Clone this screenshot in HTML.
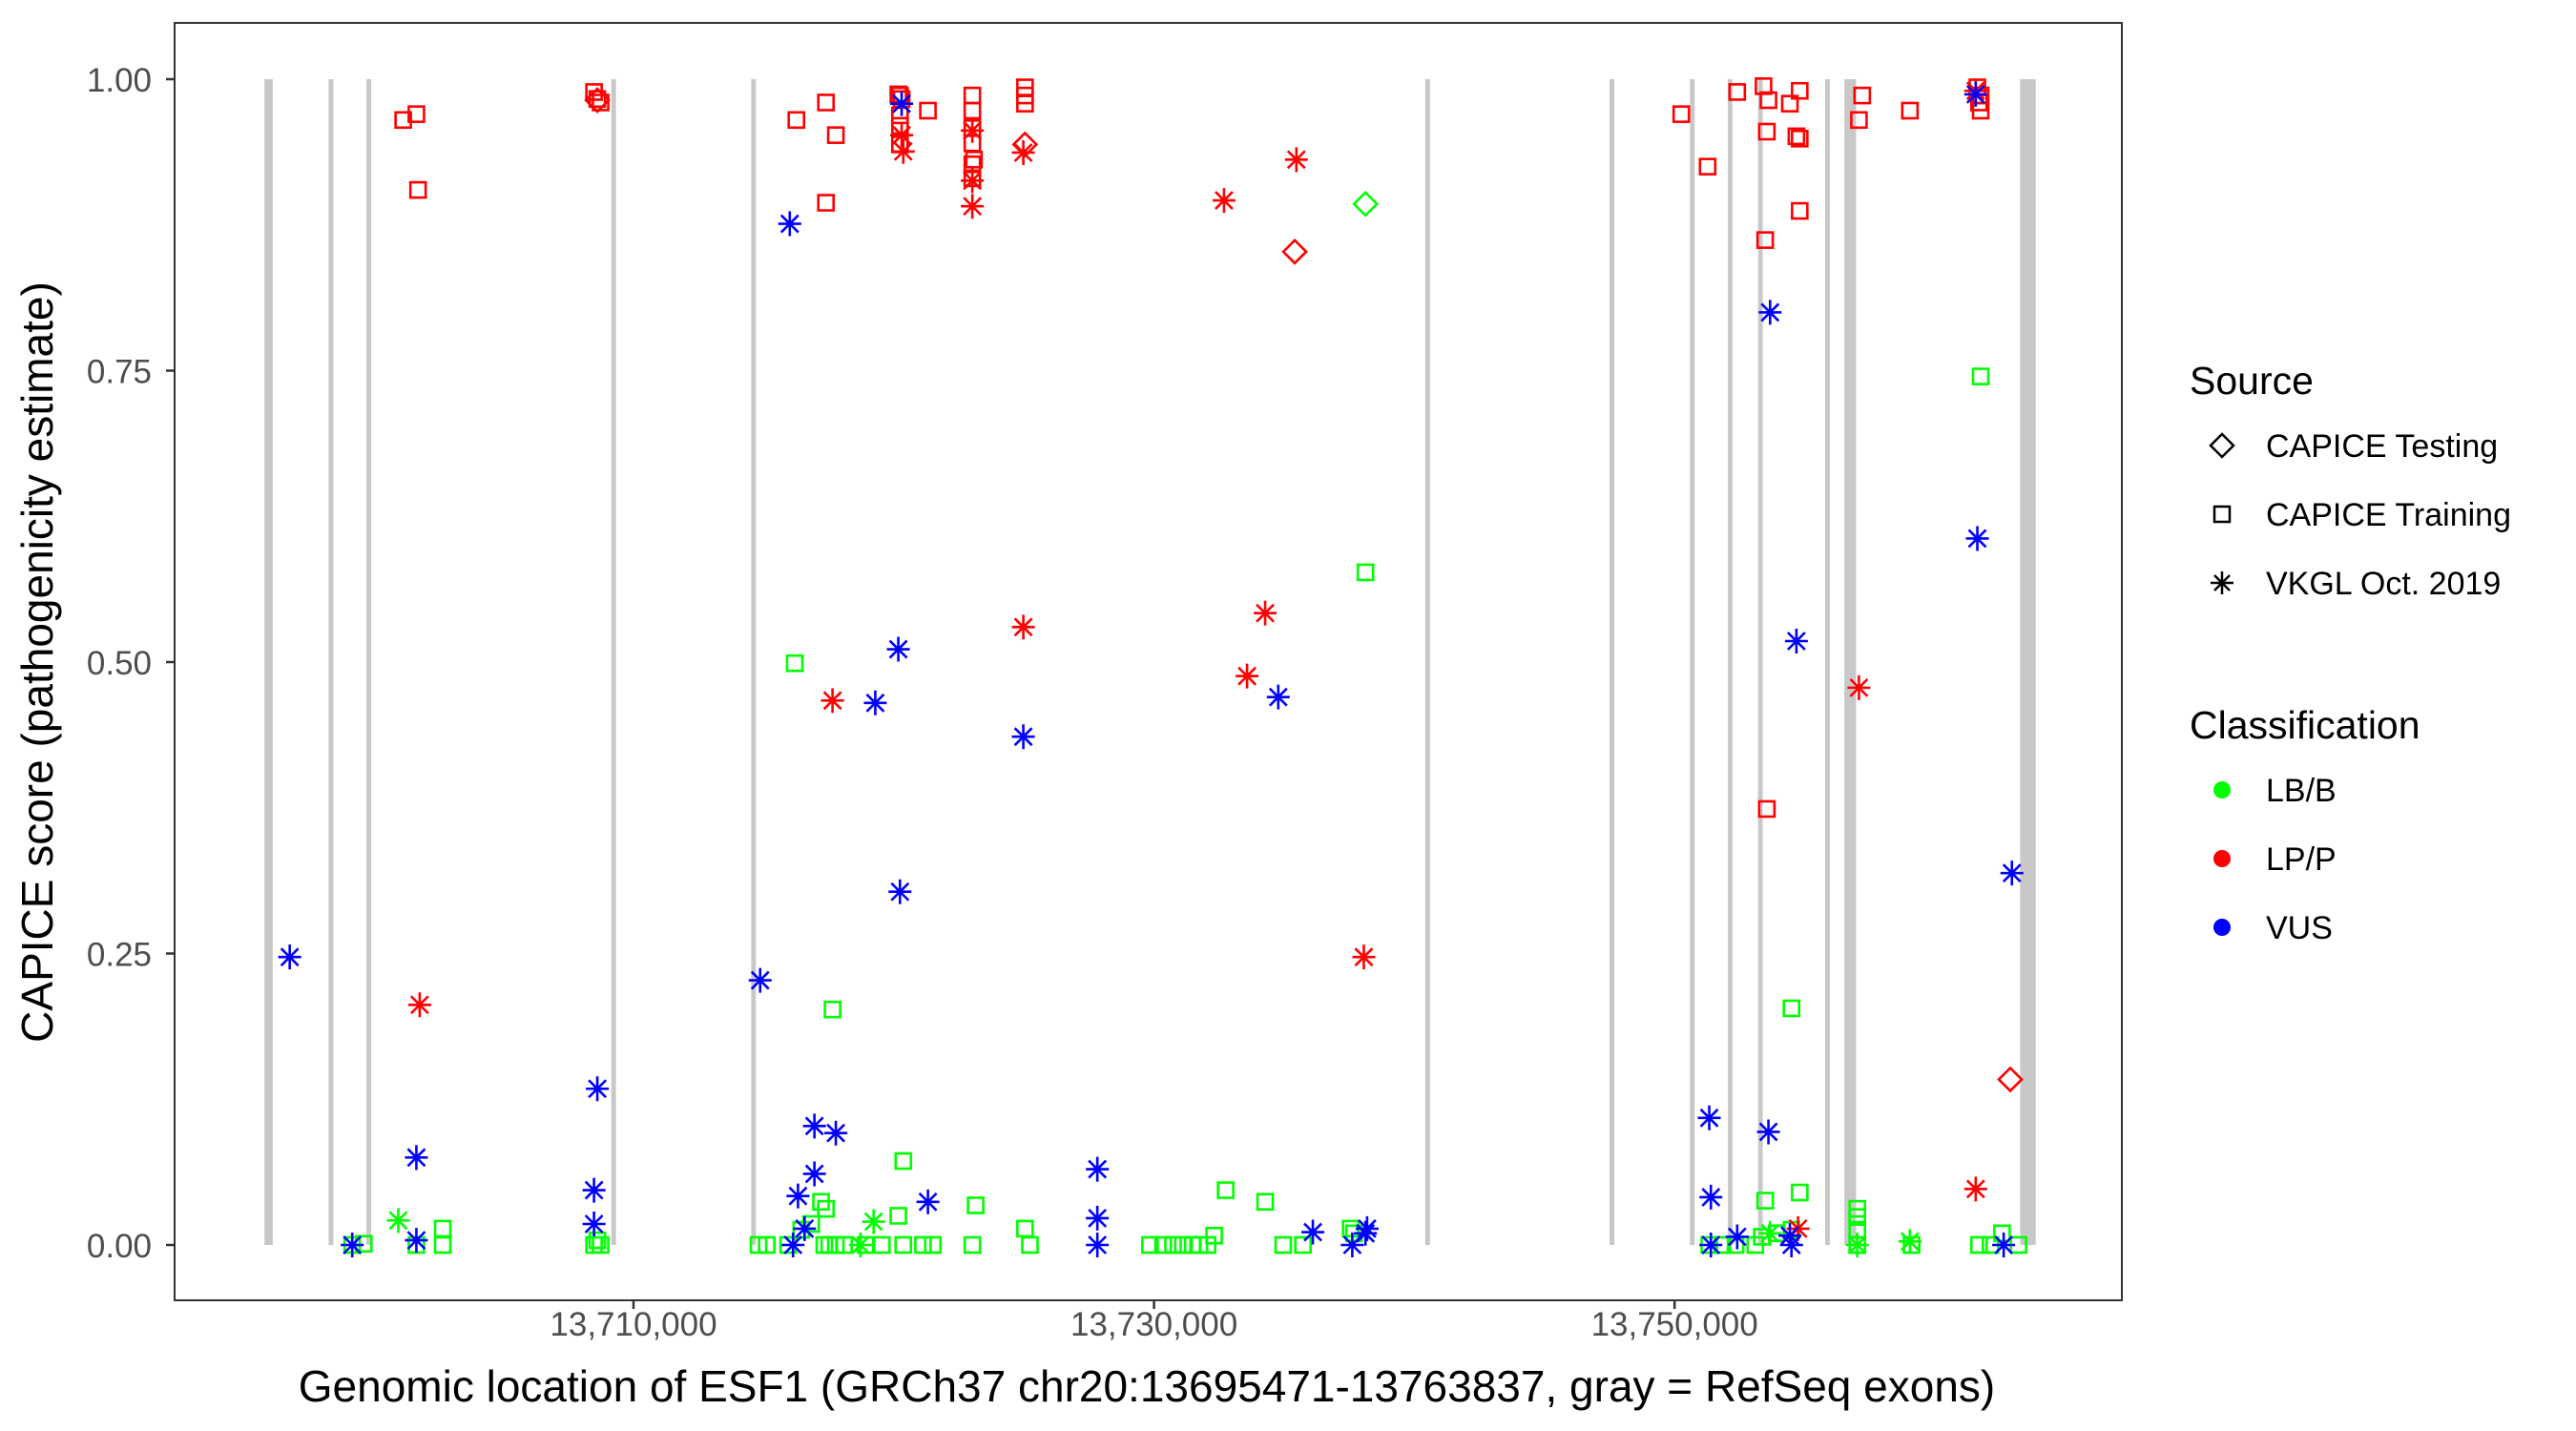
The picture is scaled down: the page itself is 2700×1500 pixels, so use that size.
<!DOCTYPE html>
<html><head><meta charset="utf-8"><style>
html,body{margin:0;padding:0;background:#fff;}
svg{display:block;font-family:"Liberation Sans",Arial,sans-serif;}
</style></head><body>
<svg id="chart" width="2700" height="1500" viewBox="0 0 2700 1500" xmlns="http://www.w3.org/2000/svg">
<rect x="0" y="0" width="2700" height="1500" fill="#fff"/>
<g id="exons"></g>
<g id="points"></g>
<rect x="183" y="24" width="2041" height="1339" fill="none" stroke="#333" stroke-width="2"/>
<g id="yaxis"></g>
<g id="xaxis"></g>
<text transform="translate(55,694) rotate(-90)" text-anchor="middle" font-size="46" fill="#000">CAPICE score (pathogenicity estimate)</text>
<text x="1202" y="1469" text-anchor="middle" font-size="46" fill="#000">Genomic location of ESF1 (GRCh37 chr20:13695471-13763837, gray = RefSeq exons)</text>
<g>
<text x="2295" y="413" font-size="41">Source</text>
<path d="M2329,455 L2341,467 L2329,479 L2317,467 Z" fill="none" stroke="#000" stroke-width="2.5"/>
<text x="2375" y="479" font-size="34">CAPICE Testing</text>
<rect x="2321" y="531" width="16" height="16" fill="none" stroke="#000" stroke-width="2.5"/>
<text x="2375" y="551" font-size="34">CAPICE Training</text>
<path d="M2317,611 H2341 M2329,599 V623 M2321,603 L2337,619 M2337,603 L2321,619" stroke="#000" stroke-width="2.5"/>
<text x="2375" y="623" font-size="34">VKGL Oct. 2019</text>
</g>
<g>
<text x="2295" y="774" font-size="41">Classification</text>
<circle cx="2329" cy="828" r="9" fill="#00ff00"/>
<text x="2375" y="840" font-size="34">LB/B</text>
<circle cx="2329" cy="900" r="9" fill="#ff0000"/>
<text x="2375" y="912" font-size="34">LP/P</text>
<circle cx="2329" cy="972" r="9" fill="#0000ff"/>
<text x="2375" y="984" font-size="34">VUS</text>
</g>
</svg>
<script>
const exonStart=[13695819,13698286,13699739,13709147,13714523,13740422,13747505,13750593,13752046,13753208,13755787,13756524,13763278];
const exonLen=[320,180,180,180,180,180,180,180,180,180,180,450,600];
const xTicks=[13710000,13730000,13750000];
const xTickLabels=["13,710,000","13,730,000","13,750,000"];
const yTicks=[0,0.25,0.5,0.75,1];
const yTickLabels=["0.00","0.25","0.50","0.75","1.00"];

const lbTrainPos=[13699193,13699635,13701658,13702669,13702669,13708483,13708610,13708736,13714803,13715119,13715941,13716194,13716446,13716826,13717205,13717394,13717647,13717331,13717521,13717774,13718090,13718911,13719543,13720175,13720365,13720365,13721123,13721502,13723146,13723019,13725042,13725231,13729845,13730350,13730730,13731109,13731488,13731741,13732057,13732310,13732752,13734269,13734964,13735722,13737555,13737682,13738124,13751333,13751838,13752344,13753102,13753355,13753482,13753924,13754493,13754809,13754493,13757021,13757021,13757021,13757021,13759106,13761761,13761698,13762140,13762582,13763214];
const lbTrainScore=[0,0.001,0,0,0.014,0,0.004,0,0,0,0,0.499,0.013,0.018,0.037,0.031,0.202,0,0,0,0,0,0,0.025,0.072,0,0,0,0.034,0,0.014,0,0,0,0,0,0,0,0,0.008,0.047,0.037,0,0,0.014,0.010,0.577,0,0,0,0,0.007,0.038,0.010,0.203,0.045,0.013,0.031,0.024,0.013,0,0,0.745,0,0,0.010,0];
const lbVkglPos=[13700962,13719227,13718722,13753671,13757021,13759043];
const lbVkglScore=[0.021,0.020,0,0.010,0,0.003];
const lbTestPos=[13738124];
const lbTestScore=[0.893];

const lpTrainPos=[13701152,13701658,13701721,13708483,13708610,13708736,13716257,13717394,13717774,13717394,13720175,13720238,13720302,13720238,13720238,13720238,13721313,13723019,13723019,13723019,13723019,13723019,13723019,13723082,13725042,13725042,13725042,13750258,13751270,13752407,13753418,13753545,13753608,13753482,13753545,13754430,13754809,13754682,13754809,13754809,13757084,13757210,13759043,13761634,13761761,13761761,13761698];
const lpTrainScore=[0.965,0.970,0.905,0.989,0.983,0.980,0.965,0.980,0.952,0.894,0.987,0.986,0.983,0.969,0.960,0.944,0.973,0.986,0.973,0.958,0.945,0.927,0.915,0.931,0.993,0.986,0.979,0.970,0.925,0.989,0.994,0.955,0.982,0.862,0.374,0.979,0.990,0.951,0.949,0.887,0.965,0.986,0.973,0.993,0.986,0.973,0.980];
const lpVkglPos=[13701784,13720302,13720365,13723019,13723019,13723019,13724978,13717647,13724978,13732689,13735470,13733574,13734269,13738061,13757084,13761571,13754746,13761571];
const lpVkglScore=[0.206,0.952,0.938,0.913,0.891,0.956,0.937,0.467,0.530,0.896,0.931,0.488,0.542,0.247,0.478,0.048,0.014,0.990];
const lpTestPos=[13708610,13725042,13735406,13762898];
const lpTestScore=[0.982,0.944,0.852,0.142];

const vusVkglPos=[13696791,13699193,13701658,13701658,13708610,13708483,13708483,13714866,13716004,13716320,13716952,13717774,13716952,13716130,13716573,13719290,13720175,13720238,13720302,13721313,13724978,13727822,13727822,13727822,13734774,13736102,13737618,13738124,13738187,13753671,13754682,13751333,13751396,13751396,13752407,13753608,13754430,13754493,13761634,13762962,13761571,13762646];
const vusVkglScore=[0.247,0,0.075,0.004,0.134,0.047,0.018,0.227,0.876,0.042,0.102,0.096,0.061,0,0.014,0.465,0.511,0.303,0.979,0.037,0.436,0.065,0.023,0,0.470,0.011,0,0.010,0.014,0.800,0.518,0.109,0.041,0,0.007,0.097,0.008,0,0.606,0.319,0.987,0];

const NS="http://www.w3.org/2000/svg";
function xs(g){return 664+(g-13710000)*0.027279;}
function ys(v){return 1305-v*1222;}
function mk(tag,attrs,parent){const e=document.createElementNS(NS,tag);for(const k in attrs)e.setAttribute(k,attrs[k]);parent.appendChild(e);return e;}

const exG=document.getElementById('exons');
for(let i=0;i<exonStart.length;i++){
  const x0=xs(exonStart[i]),x1=xs(exonStart[i]+exonLen[i]);
  const r=mk('rect',{x:x0,y:ys(1),width:Math.max(x1-x0,4),height:ys(0)-ys(1),fill:'#c8c8c8'},exG);
  
  
}

const yG=document.getElementById('yaxis');
for(let i=0;i<yTicks.length;i++){
  const y=ys(yTicks[i]);
  const t=mk('line',{x1:174,x2:183,y1:y,y2:y,stroke:'#333','stroke-width':2.5},yG);
  
  
  const l=mk('text',{x:159,y:y+13,'text-anchor':'end','font-size':35,fill:'#4d4d4d'},yG);
  l.textContent=yTickLabels[i];
  
  
}
const xG=document.getElementById('xaxis');
for(let i=0;i<xTicks.length;i++){
  const x=xs(xTicks[i]);
  const t=mk('line',{x1:x,x2:x,y1:1363,y2:1372,stroke:'#333','stroke-width':2.5},xG);
  
  
  const l=mk('text',{x:x,y:1400,'text-anchor':'middle','font-size':35,fill:'#4d4d4d'},xG);
  l.textContent=xTickLabels[i];
  
  
}

const pG=document.getElementById('points');
function draw(pos,score,shape,color,name){
  for(let i=0;i<pos.length;i++){
    const x=xs(pos[i]),y=ys(score[i]);let e;
    if(shape==='square'){e=mk('rect',{x:x-8,y:y-8,width:16,height:16,fill:'none',stroke:color,'stroke-width':2.6},pG);}
    else if(shape==='diamond'){e=mk('path',{d:`M${x},${y-12}L${x+12},${y}L${x},${y+12}L${x-12},${y}Z`,fill:'none',stroke:color,'stroke-width':2.6},pG);}
    else {e=mk('path',{d:`M${x-12},${y}H${x+12}M${x},${y-13}V${y+13}M${x-9},${y-9}L${x+9},${y+9}M${x+9},${y-9}L${x-9},${y+9}`,fill:'none',stroke:color,'stroke-width':2.6},pG);}
    
    
  }
}
draw(lbTrainPos,lbTrainScore,'square','#00ff00','point-lbb-training');
draw(lbVkglPos,lbVkglScore,'asterisk','#00ff00','point-lbb-vkgl');
draw(lbTestPos,lbTestScore,'diamond','#00ff00','point-lbb-testing');
draw(lpTrainPos,lpTrainScore,'square','#ff0000','point-lpp-training');
draw(lpVkglPos,lpVkglScore,'asterisk','#ff0000','point-lpp-vkgl');
draw(lpTestPos,lpTestScore,'diamond','#ff0000','point-lpp-testing');
draw(vusVkglPos,vusVkglScore,'asterisk','#0000ff','point-vus-vkgl');
</script>
</body></html>
